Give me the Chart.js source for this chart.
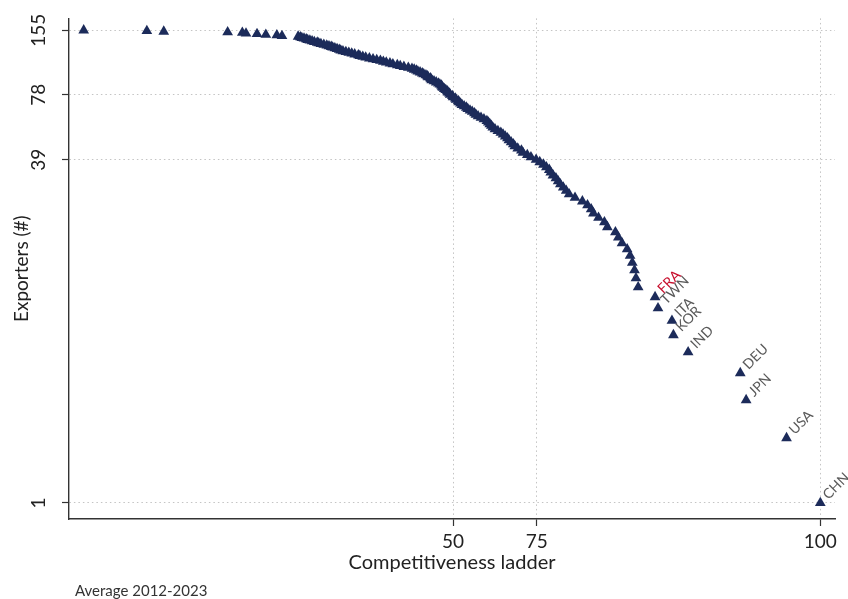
<!DOCTYPE html>
<html>
<head>
<meta charset="UTF-8">
<title>Competitiveness ladder</title>
<script src="https://cdn.jsdelivr.net/npm/chart.js"></script>
<style>
    html, body { margin: 0; padding: 0; background: #fff; }
    #wrap { width: 848px; height: 599px; }
</style>
</head>
<body>
<div id="wrap"><canvas id="ladder-chart" width="848" height="599"></canvas></div>
<script>
    // Exporters (#): rank of each country, 1 = most competitive
    const exporters = [
        1, 2, 3, 4, 5, 6, 7, 8, 9, 10, 11, 12, 13, 14, 15, 16, 17, 18, 19, 20,
        21, 22, 23, 24, 25, 26, 27, 28, 29, 30, 31, 32, 33, 34, 35, 36, 37, 38, 39, 40,
        41, 42, 43, 44, 45, 46, 47, 48, 49, 50, 51, 52, 53, 54, 55, 56, 57, 58, 59, 60,
        61, 62, 63, 64, 65, 66, 67, 68, 69, 70, 71, 72, 73, 74, 75, 76, 77, 78, 79, 80,
        81, 82, 83, 84, 85, 86, 87, 88, 89, 90, 91, 92, 93, 94, 95, 96, 97, 98, 99, 100,
        101, 102, 103, 104, 105, 106, 107, 108, 109, 110, 111, 112, 113, 114, 115, 116, 117, 118, 119, 120,
        121, 122, 123, 124, 125, 126, 127, 128, 129, 130, 131, 132, 133, 134, 135, 136, 137, 138, 139, 140,
        141, 142, 143, 144, 145, 146, 147, 148, 149, 150, 151, 152, 153, 154, 155
    ];

    // position on the ladder, same order as exporters
    const ladder = [
        100, 95.4, 89.9, 89.1, 82.0, 80.0, 79.8, 77.9, 77.5, 75.2,
        74.9, 74.7, 74.4, 74.1, 73.7, 73.0, 72.5, 72.1, 71.0, 70.6,
        69.8, 69.1, 68.8, 68.3, 67.6, 66.6, 65.8, 65.4, 65.0, 64.6,
        64.3, 64.0, 63.6, 63.3, 63.1, 62.7, 62.3, 61.8, 61.3, 60.6,
        60.1, 59.5, 59.3, 58.8, 58.4, 58.2, 57.9, 57.6, 57.4, 57.1,
        56.8, 56.5, 56.1, 55.7, 55.4, 55.2, 55.0, 54.8, 54.6, 54.2,
        53.8, 53.4, 53.1, 52.9, 52.6, 52.3, 52.0, 51.8, 51.5, 51.2,
        51.0, 50.8, 50.7, 50.4, 50.3, 50.0, 49.9, 49.6, 49.5, 49.3,
        49.2, 49.0, 48.8, 48.6, 48.5, 48.4, 48.2, 48.0, 47.7, 47.4,
        47.1, 47.0, 46.9, 46.6, 46.5, 46.3, 46.0, 45.8, 45.5, 45.2,
        45.0, 44.7, 44.4, 43.9, 43.3, 42.8, 42.4, 41.8, 41.4, 40.9,
        40.5, 40.1, 39.6, 39.1, 38.6, 38.1, 37.7, 37.3, 37.1, 36.6,
        36.2, 35.8, 35.4, 35.0, 34.7, 34.5, 34.2, 33.9, 33.6, 33.4,
        33.1, 32.8, 32.4, 32.0, 31.7, 31.5, 31.1, 30.8, 30.5, 30.2,
        30.0, 29.7, 29.4, 29.2, 28.9, 26.7, 26.0, 24.5, 23.3, 21.8,
        21.3, 19.3, 10.6, 8.3, -0.3
    ];

    // labels for the top of the ladder (same order as above)
    const countryCodes = ['CHN', 'USA', 'JPN', 'DEU', 'IND', 'KOR', 'ITA', 'TWN', 'FRA'];
    const highlight = 'FRA';

    // axis ticks
    const yTicks = [1, 39, 78, 155];
    const xTickAt = [50, 61.4, 100];
    const xTickText = ['50', '75', '100'];

    const FONT = 'Lato, "Open Sans", sans-serif';
    const NAVY = '#1c2b5a';

    // country codes next to the points, rotated 45 degrees
    const countryLabelPlugin = {
        id: 'countryLabels',
        afterDatasetsDraw(chart) {
            const ctx = chart.ctx;
            const meta = chart.getDatasetMeta(0);
            ctx.save();
            ctx.font = '14px ' + FONT;
            ctx.textAlign = 'left';
            ctx.textBaseline = 'middle';
            countryCodes.forEach((code, i) => {
                const pt = meta.data[i];
                if (!pt) return;
                ctx.save();
                ctx.translate(pt.x + 5, pt.y - 6);
                ctx.rotate(-Math.PI / 4);
                ctx.fillStyle = code === highlight ? '#c8102e' : '#5a5a5a';
                ctx.fillText(code, 0, 0);
                ctx.restore();
            });
            ctx.restore();
        }
    };

    // note under the chart
    const notePlugin = {
        id: 'note',
        afterDraw(chart) {
            const ctx = chart.ctx;
            ctx.save();
            ctx.font = '15px ' + FONT;
            ctx.fillStyle = '#333';
            ctx.textAlign = 'left';
            ctx.textBaseline = 'middle';
            ctx.fillText('Average 2012-2023', 75, 591);
            ctx.restore();
        }
    };

    const whiteBg = {
        id: 'whiteBg',
        beforeDraw(chart) {
            const ctx = chart.ctx;
            ctx.save();
            ctx.fillStyle = '#fff';
            ctx.fillRect(0, 0, chart.width, chart.height);
            ctx.restore();
        }
    };

    new Chart(document.getElementById('ladder-chart'), {
        type: 'scatter',
        data: {
            datasets: [{
                label: 'Exporters',
                data: ladder.map((x, i) => ({ x: x, y: exporters[i] })),
                pointStyle: 'triangle',
                pointRadius: 6.2,
                pointBorderWidth: 0,
                backgroundColor: NAVY,
                borderColor: NAVY
            }]
        },
        options: {
            responsive: false,
            animation: false,
            devicePixelRatio: 1,
            layout: { padding: { top: 18, right: 13, left: 0, bottom: 0 } },
            plugins: {
                legend: { display: false },
                tooltip: { enabled: false }
            },
            scales: {
                x: {
                    type: 'linear',
                    bounds: 'data',
                    min: -2.3,
                    max: 102,
                    afterFit: (scale) => { scale.height = 80; },
                    afterBuildTicks: (scale) => {
                        scale.ticks = xTickAt.map(v => ({ value: v }));
                    },
                    ticks: {
                        callback: (value, index) => xTickText[index],
                        color: '#222',
                        font: { family: FONT, size: 19 },
                        padding: 4,
                        maxRotation: 0
                    },
                    grid: {
                        color: '#c4c4c4',
                        lineWidth: 1,
                        tickLength: 7,
                        tickColor: '#333',
                        tickWidth: 1.2
                    },
                    border: { display: true, color: '#333', width: 1.4, dash: [1.5, 3] },
                    title: {
                        display: true,
                        text: 'Competitiveness ladder',
                        color: '#222',
                        font: { family: FONT, size: 20 },
                        padding: { top: 0, bottom: 24 }
                    }
                },
                y: {
                    type: 'logarithmic',
                    bounds: 'data',
                    min: 0.843,
                    max: 176,
                    afterFit: (scale) => { scale.width = 69; },
                    afterBuildTicks: (scale) => {
                        scale.ticks = yTicks.map(v => ({ value: v }));
                    },
                    ticks: {
                        callback: (value) => String(value),
                        color: '#222',
                        font: { family: FONT, size: 19 },
                        minRotation: 90,
                        maxRotation: 90,
                        crossAlign: 'center',
                        padding: 7
                    },
                    grid: {
                        color: '#c4c4c4',
                        lineWidth: 1,
                        tickLength: 7,
                        tickColor: '#333',
                        tickWidth: 1.2
                    },
                    border: { display: true, color: '#333', width: 1.4, dash: [1.5, 3] },
                    title: {
                        display: true,
                        text: 'Exporters (#)',
                        color: '#222',
                        font: { family: FONT, size: 19 },
                        padding: { top: 10, bottom: 0 }
                    }
                }
            }
        },
        plugins: [whiteBg, countryLabelPlugin, notePlugin]
    });
</script>
</body>
</html>
